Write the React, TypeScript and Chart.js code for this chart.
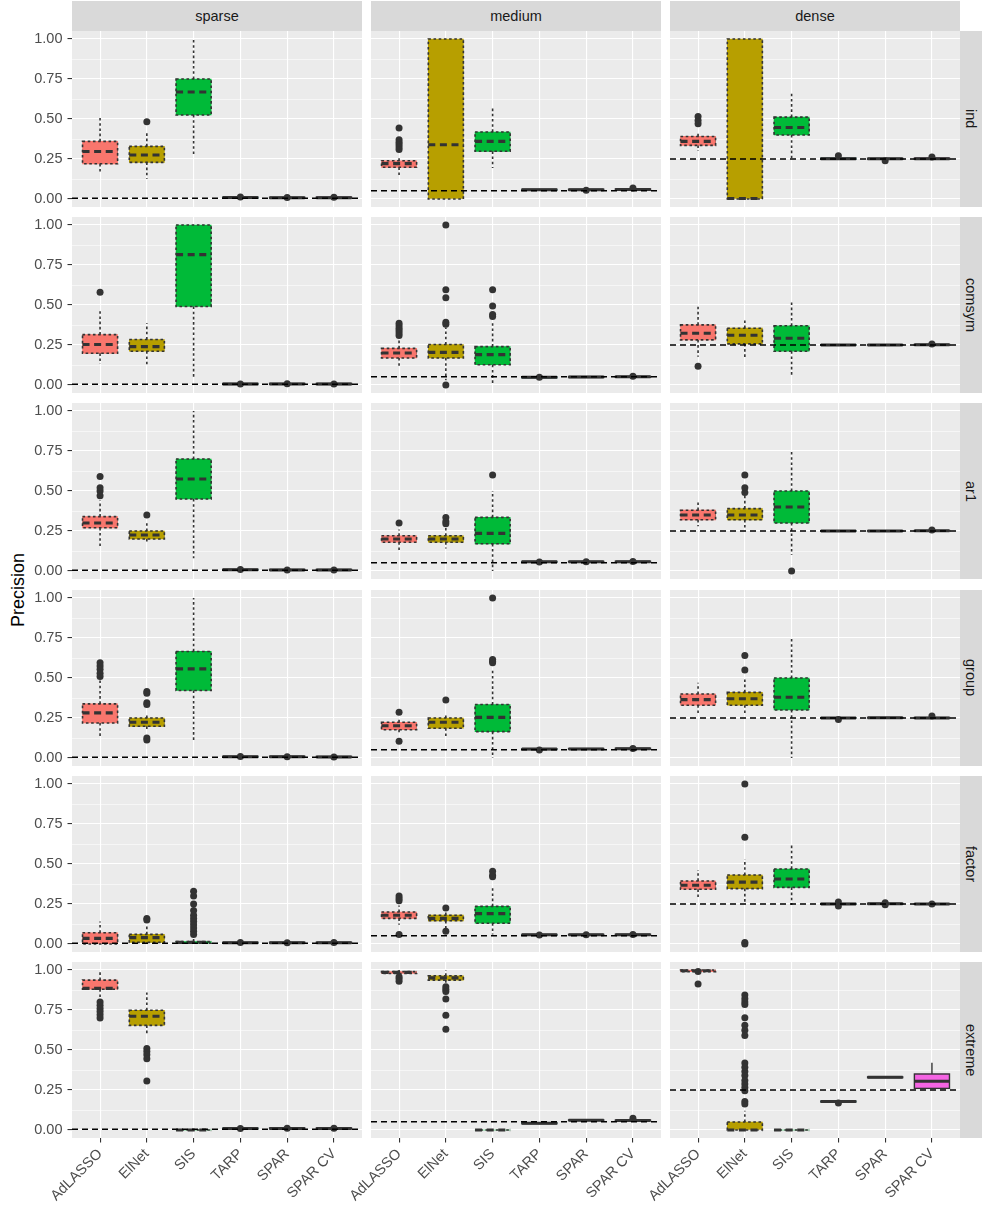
import React, { useEffect, useRef } from "react";
import { Chart, registerables } from "chart.js";

Chart.register(...registerables);

const FONT = '"Liberation Sans", Arial, Helvetica, sans-serif';

// ---------- categories / labels ----------
const METHODS = ["AdLASSO", "ElNet", "SIS", "TARP", "SPAR", "SPAR CV"];
const METHOD_COLORS = ["#F8766D", "#B79F00", "#00BA38", "#00BFC4", "#619CFF", "#F564E3"];
const DOTTED = [true, true, true, false, false, false];
const SCENARIOS = ["sparse", "medium", "dense"];
const STRUCTURES = ["ind", "comsym", "ar1", "group", "factor", "extreme"];
const REFERENCE_LINE = [0.005, 0.052, 0.25];
const Y_MAJOR = [0, 0.25, 0.5, 0.75, 1];
const Y_MINOR = [0.125, 0.375, 0.625, 0.875];
const Y_TICKS = [0, 0.125, 0.25, 0.375, 0.5, 0.625, 0.75, 0.875, 1];
const Y_MIN = -0.05;
const Y_MAX = 1.05;
const X_MIN = -0.6;
const X_MAX = 5.6;

// ---------- data: [lower whisker, Q1, median, Q3, upper whisker] per method ----------
const ind_sparse_box = [
  [0.158, 0.22, 0.297, 0.36, 0.516],
  [0.127, 0.229, 0.275, 0.329, 0.42],
  [0.275, 0.525, 0.669, 0.75, 1.0],
  [0.002, 0.005, 0.009, 0.012, 0.016],
  [0.002, 0.005, 0.008, 0.011, 0.015],
  [0.002, 0.005, 0.008, 0.012, 0.016],
];
const ind_sparse_out = [[], [0.483], [], [0.012], [0.01], [0.011]];

const ind_medium_box = [
  [0.141, 0.198, 0.221, 0.239, 0.266],
  [0.0, 0.0, 0.339, 1.0, 1.0],
  [0.194, 0.298, 0.36, 0.419, 0.579],
  [0.053, 0.055, 0.058, 0.061, 0.063],
  [0.052, 0.055, 0.058, 0.061, 0.064],
  [0.05, 0.055, 0.059, 0.063, 0.066],
];
const ind_medium_out = [[0.444, 0.37, 0.355, 0.34, 0.325, 0.31], [], [], [], [0.054], [0.069]];

const ind_dense_box = [
  [0.3, 0.335, 0.36, 0.391, 0.41],
  [0.0, 0.0, 0.003, 1.0, 1.0],
  [0.256, 0.4, 0.447, 0.512, 0.662],
  [0.244, 0.248, 0.252, 0.256, 0.26],
  [0.244, 0.248, 0.251, 0.254, 0.258],
  [0.244, 0.248, 0.251, 0.255, 0.258],
];
const ind_dense_out = [[0.515, 0.49, 0.47], [], [], [0.27], [0.239], [0.262]];

const comsym_sparse_box = [
  [0.132, 0.198, 0.253, 0.315, 0.476],
  [0.115, 0.211, 0.24, 0.284, 0.386],
  [0.05, 0.491, 0.815, 1.0, 1.0],
  [0.0, 0.003, 0.006, 0.01, 0.014],
  [0.0, 0.004, 0.007, 0.01, 0.014],
  [0.0, 0.003, 0.006, 0.01, 0.014],
];
const comsym_sparse_out = [[0.579], [], [], [0.006], [0.008], [0.006]];

const comsym_medium_box = [
  [0.104, 0.169, 0.2, 0.229, 0.278],
  [0.03, 0.169, 0.204, 0.253, 0.36],
  [0.01, 0.127, 0.19, 0.24, 0.39],
  [0.043, 0.045, 0.048, 0.051, 0.053],
  [0.045, 0.047, 0.05, 0.053, 0.055],
  [0.045, 0.048, 0.051, 0.054, 0.056],
];
const comsym_medium_out = [
  [0.386, 0.37, 0.355, 0.34, 0.325, 0.31],
  [1.0, 0.596, 0.545, 0.392, 0.38, 0.0],
  [0.596, 0.493, 0.44, 0.428],
  [0.048],
  [],
  [0.055],
];

const comsym_dense_box = [
  [0.177, 0.282, 0.323, 0.376, 0.49],
  [0.159, 0.257, 0.311, 0.355, 0.42],
  [0.052, 0.211, 0.292, 0.37, 0.533],
  [0.247, 0.249, 0.25, 0.252, 0.253],
  [0.247, 0.249, 0.25, 0.252, 0.253],
  [0.245, 0.248, 0.251, 0.254, 0.257],
];
const comsym_dense_out = [[0.117], [], [], [], [], [0.256]];

const ar1_sparse_box = [
  [0.14, 0.27, 0.3, 0.34, 0.44],
  [0.18, 0.2, 0.225, 0.25, 0.3],
  [0.08, 0.45, 0.575, 0.7, 1.0],
  [0.002, 0.005, 0.008, 0.011, 0.015],
  [0.002, 0.004, 0.007, 0.01, 0.014],
  [0.001, 0.004, 0.007, 0.01, 0.013],
];
const ar1_sparse_out = [[0.59, 0.52, 0.5, 0.47], [0.35], [], [0.009], [0.007], [0.006]];

const ar1_medium_box = [
  [0.13, 0.18, 0.2, 0.22, 0.26],
  [0.14, 0.18, 0.2, 0.22, 0.27],
  [0.0, 0.17, 0.235, 0.335, 0.5],
  [0.053, 0.055, 0.058, 0.06, 0.062],
  [0.054, 0.056, 0.058, 0.06, 0.062],
  [0.053, 0.056, 0.058, 0.061, 0.063],
];
const ar1_medium_out = [[0.3], [0.335, 0.31, 0.295], [0.6], [0.057], [0.058], [0.06]];

const ar1_dense_box = [
  [0.28, 0.32, 0.35, 0.38, 0.43],
  [0.27, 0.32, 0.35, 0.39, 0.47],
  [0.1, 0.3, 0.4, 0.5, 0.75],
  [0.248, 0.249, 0.25, 0.252, 0.253],
  [0.248, 0.249, 0.25, 0.252, 0.253],
  [0.247, 0.249, 0.251, 0.253, 0.255],
];
const ar1_dense_out = [[], [0.6, 0.52, 0.49], [0.0], [], [], [0.256]];

const group_sparse_box = [
  [0.125, 0.219, 0.282, 0.338, 0.495],
  [0.171, 0.198, 0.223, 0.25, 0.276],
  [0.098, 0.422, 0.557, 0.666, 1.0],
  [0.002, 0.005, 0.008, 0.011, 0.015],
  [0.002, 0.005, 0.008, 0.011, 0.014],
  [0.001, 0.004, 0.007, 0.01, 0.013],
];
const group_sparse_out = [
  [0.595, 0.575, 0.555, 0.53, 0.51],
  [0.415, 0.405, 0.345, 0.335, 0.125, 0.113],
  [],
  [0.009],
  [0.008],
  [0.007],
];

const group_medium_box = [
  [0.154, 0.177, 0.202, 0.223, 0.248],
  [0.123, 0.186, 0.223, 0.25, 0.276],
  [0.0, 0.165, 0.254, 0.334, 0.56],
  [0.05, 0.053, 0.056, 0.058, 0.06],
  [0.053, 0.055, 0.057, 0.059, 0.061],
  [0.052, 0.055, 0.058, 0.061, 0.064],
];
const group_medium_out = [[0.286, 0.104], [0.363], [1.0, 0.616, 0.605, 0.595], [0.05], [], [0.06]];

const group_dense_box = [
  [0.27, 0.33, 0.365, 0.4, 0.47],
  [0.27, 0.33, 0.37, 0.41, 0.5],
  [0.0, 0.3, 0.38, 0.5, 0.75],
  [0.247, 0.249, 0.25, 0.252, 0.254],
  [0.248, 0.25, 0.251, 0.253, 0.255],
  [0.246, 0.248, 0.25, 0.253, 0.256],
];
const group_dense_out = [[], [0.64, 0.55], [], [0.24], [], [0.262]];

const factor_sparse_box = [
  [0.0, 0.0, 0.035, 0.07, 0.14],
  [0.0, 0.01, 0.04, 0.06, 0.12],
  [0.0, 0.005, 0.01, 0.015, 0.04],
  [0.002, 0.005, 0.008, 0.011, 0.015],
  [0.002, 0.005, 0.008, 0.011, 0.014],
  [0.002, 0.005, 0.008, 0.011, 0.014],
];
const factor_sparse_out = [
  [],
  [0.16, 0.15],
  [0.33, 0.3, 0.25, 0.21, 0.18, 0.16, 0.14, 0.12, 0.1, 0.08, 0.06],
  [0.009],
  [0.008],
  [0.009],
];

const factor_medium_box = [
  [0.12, 0.16, 0.18, 0.2, 0.24],
  [0.1, 0.145, 0.16, 0.18, 0.21],
  [0.06, 0.13, 0.19, 0.235, 0.36],
  [0.053, 0.055, 0.058, 0.06, 0.062],
  [0.054, 0.056, 0.058, 0.06, 0.062],
  [0.053, 0.055, 0.058, 0.061, 0.063],
];
const factor_medium_out = [[0.3, 0.285, 0.27, 0.06], [0.225, 0.08], [0.455, 0.43, 0.42], [0.057], [0.058], [0.06]];

const factor_dense_box = [
  [0.292, 0.342, 0.367, 0.394, 0.462],
  [0.258, 0.346, 0.387, 0.431, 0.529],
  [0.244, 0.354, 0.406, 0.469, 0.629],
  [0.245, 0.248, 0.25, 0.253, 0.256],
  [0.246, 0.249, 0.251, 0.254, 0.257],
  [0.246, 0.248, 0.25, 0.252, 0.254],
];
const factor_dense_out = [[], [1.0, 0.667, 0.01, 0.0], [], [0.262, 0.238], [0.258, 0.245], [0.25]];

const extreme_sparse_box = [
  [0.832, 0.88, 0.885, 0.937, 1.0],
  [0.591, 0.654, 0.711, 0.748, 0.86],
  [0, 0, 0, 0, 0],
  [0.003, 0.006, 0.009, 0.012, 0.016],
  [0.004, 0.007, 0.01, 0.013, 0.016],
  [0.004, 0.007, 0.01, 0.013, 0.016],
];
const extreme_sparse_out = [[0.8, 0.78, 0.76, 0.74, 0.72, 0.7], [0.51, 0.49, 0.47, 0.445, 0.306], [], [0.01], [0.011], [0.011]];

const extreme_medium_box = [
  [0.965, 0.978, 0.985, 0.99, 1.0],
  [0.91, 0.937, 0.951, 0.964, 1.0],
  [0, 0, 0, 0, 0],
  [0.036, 0.039, 0.042, 0.045, 0.048],
  [0.058, 0.059, 0.061, 0.063, 0.064],
  [0.056, 0.058, 0.06, 0.062, 0.064],
];
const extreme_medium_out = [[0.958, 0.945, 0.93], [0.895, 0.88, 0.865, 0.818, 0.717, 0.629], [], [], [], [0.074]];

const extreme_dense_box = [
  [0.98, 0.99, 0.995, 1.0, 1.0],
  [0.0, 0.0, 0.0, 0.05, 0.12],
  [0, 0, 0, 0, 0],
  [0.172, 0.175, 0.178, 0.181, 0.184],
  [0.326, 0.327, 0.329, 0.332, 0.334],
  [0.26, 0.26, 0.305, 0.35, 0.42],
];
const extreme_dense_out = [
  [0.99, 0.912],
  [0.843, 0.82, 0.8, 0.784, 0.702, 0.654, 0.623, 0.591, 0.419, 0.392, 0.365, 0.34, 0.31, 0.287, 0.266, 0.245, 0.178, 0.162],
  [],
  [0.168],
  [],
  [],
];

// lookup table built from the arrays above
const PANEL_DATA: Record<string, number[][][][]> = {
  ind: [[ind_sparse_box, ind_sparse_out], [ind_medium_box, ind_medium_out], [ind_dense_box, ind_dense_out]],
  comsym: [[comsym_sparse_box, comsym_sparse_out], [comsym_medium_box, comsym_medium_out], [comsym_dense_box, comsym_dense_out]],
  ar1: [[ar1_sparse_box, ar1_sparse_out], [ar1_medium_box, ar1_medium_out], [ar1_dense_box, ar1_dense_out]],
  group: [[group_sparse_box, group_sparse_out], [group_medium_box, group_medium_out], [group_dense_box, group_dense_out]],
  factor: [[factor_sparse_box, factor_sparse_out], [factor_medium_box, factor_medium_out], [factor_dense_box, factor_dense_out]],
  extreme: [[extreme_sparse_box, extreme_sparse_out], [extreme_medium_box, extreme_medium_out], [extreme_dense_box, extreme_dense_out]],
};

// ---------- layout ----------
const COL_LEFT = [72, 371, 670];
const ROW_TOP = [31, 217, 403, 590, 776, 962];
const PANEL_W = 290;
const PANEL_H = 176;
const Y_AXIS_W = 52;
const X_AXIS_H = 73;
const BOX_WIDTH = 0.75;
const LINE_COLOR = "#333333";

function seg(ctx: CanvasRenderingContext2D, x1: number, y1: number, x2: number, y2: number) {
  ctx.beginPath();
  ctx.moveTo(x1, y1);
  ctx.lineTo(x2, y2);
  ctx.stroke();
}

const backgroundPlugin = {
  id: "panelBackground",
  beforeDraw(chart: any) {
    const { ctx, chartArea } = chart;
    ctx.save();
    ctx.fillStyle = "#EBEBEB";
    ctx.fillRect(chartArea.left, chartArea.top, chartArea.right - chartArea.left, chartArea.bottom - chartArea.top);
    ctx.restore();
  },
};

function makeBoxPlugin(stats: number[][]) {
  return {
    id: "boxDetails",
    afterDatasetDraw(chart: any, args: any) {
      if (args.index !== 0) return;
      const xs = chart.scales.x;
      const ys = chart.scales.y;
      const ctx: CanvasRenderingContext2D = chart.ctx;
      const a = chart.chartArea;
      ctx.save();
      ctx.beginPath();
      ctx.rect(a.left, a.top, a.right - a.left, a.bottom - a.top);
      ctx.clip();
      ctx.strokeStyle = LINE_COLOR;
      ctx.lineCap = "butt";
      stats.forEach((s, i) => {
        const cx = xs.getPixelForValue(i);
        const hw = (xs.getPixelForValue(i + BOX_WIDTH / 2) - xs.getPixelForValue(i - BOX_WIDTH / 2)) / 2;
        const [lo, q1, med, q3, hi] = s.map((v) => ys.getPixelForValue(v));
        const dotted = DOTTED[i];
        ctx.lineWidth = dotted ? 1.6 : 1.4;
        ctx.setLineDash(dotted ? [2.6, 2.6] : []);
        seg(ctx, cx, q3, cx, hi);
        seg(ctx, cx, q1, cx, lo);
        ctx.strokeRect(cx - hw, q3, hw * 2, q1 - q3);
        ctx.lineWidth = dotted ? 3.1 : 3;
        ctx.setLineDash(dotted ? [7, 4.6] : []);
        seg(ctx, cx - hw, med, cx + hw, med);
      });
      ctx.restore();
    },
  };
}

function Panel({ row, col }: { row: number; col: number }) {
  const ref = useRef<HTMLCanvasElement | null>(null);
  const isLeft = col === 0;
  const isBottom = row === STRUCTURES.length - 1;
  const padL = isBottom && !isLeft ? 64 : 10;
  const padT = 10;
  const padR = 4;
  const padB = isBottom ? 0 : 6;
  const axisW = isLeft ? Y_AXIS_W : 0;
  const axisH = isBottom ? X_AXIS_H : 0;
  const w = padL + axisW + PANEL_W + padR;
  const h = padT + PANEL_H + axisH + padB;
  const left = COL_LEFT[col] - axisW - padL;
  const top = ROW_TOP[row] - padT;

  useEffect(() => {
    const [stats, outliers] = PANEL_DATA[STRUCTURES[row]][col];
    const refY = REFERENCE_LINE[col];
    const outlierPoints: { x: number; y: number }[] = [];
    outliers.forEach((list, i) => list.forEach((v) => outlierPoints.push({ x: i, y: v })));
    const barPx = (PANEL_W / (X_MAX - X_MIN)) * BOX_WIDTH;
    const tickFont = { family: FONT, size: 14.5 };

    const chart = new Chart(ref.current as HTMLCanvasElement, {
      type: "bar",
      data: {
        datasets: [
          {
            type: "bar",
            data: stats.map((s, i) => ({ x: i, y: [s[1], s[3]] })),
            backgroundColor: METHOD_COLORS,
            borderWidth: 0,
            barThickness: barPx,
            order: 3,
          } as any,
          {
            type: "scatter",
            data: outlierPoints,
            pointRadius: 3.5,
            pointBackgroundColor: LINE_COLOR,
            pointBorderColor: LINE_COLOR,
            pointBorderWidth: 0,
            order: 2,
          } as any,
          {
            type: "line",
            data: [
              { x: X_MIN, y: refY },
              { x: X_MAX, y: refY },
            ],
            borderColor: "#000000",
            borderWidth: 1.6,
            borderDash: [6, 4],
            pointRadius: 0,
            fill: false,
            tension: 0,
            order: 1,
          } as any,
        ],
      },
      options: {
        responsive: false,
        maintainAspectRatio: false,
        animation: false,
        events: [],
        layout: { padding: { left: padL, right: padR, top: padT, bottom: padB } },
        plugins: { legend: { display: false }, tooltip: { enabled: false }, title: { display: false } },
        scales: {
          x: {
            type: "linear",
            min: X_MIN,
            max: X_MAX,
            bounds: "data",
            offset: false,
            afterBuildTicks: (s: any) => {
              s.ticks = METHODS.map((_, i) => ({ value: i }));
            },
            afterFit: (s: any) => {
              s.height = axisH;
              s.paddingLeft = 0;
              s.paddingRight = 0;
              s.paddingTop = 0;
              s.paddingBottom = 0;
            },
            ticks: {
              display: isBottom,
              autoSkip: false,
              minRotation: 45,
              maxRotation: 45,
              padding: 3,
              color: "#4D4D4D",
              font: tickFont,
              callback: (v: any) => METHODS[Math.round(Number(v))] ?? "",
            },
            grid: {
              offset: false,
              color: "#FFFFFF",
              lineWidth: 1.1,
              drawTicks: isBottom,
              tickLength: 4.5,
              tickColor: LINE_COLOR,
              tickWidth: 1.1,
            },
            border: { display: false },
          },
          y: {
            type: "linear",
            min: Y_MIN,
            max: Y_MAX,
            bounds: "data",
            afterBuildTicks: (s: any) => {
              s.ticks = Y_TICKS.map((v) => ({ value: v }));
            },
            afterFit: (s: any) => {
              s.width = axisW;
              s.paddingLeft = 0;
              s.paddingRight = 0;
              s.paddingTop = 0;
              s.paddingBottom = 0;
            },
            ticks: {
              display: isLeft,
              autoSkip: false,
              padding: 5,
              color: "#4D4D4D",
              font: tickFont,
              callback: (v: any) => (Y_MAJOR.includes(Number(v)) ? Number(v).toFixed(2) : ""),
            },
            grid: {
              offset: false,
              color: "#FFFFFF",
              lineWidth: (c: any) => (c.tick && Y_MINOR.includes(c.tick.value) ? 0.55 : 1.1),
              drawTicks: isLeft,
              tickLength: 4.5,
              tickColor: (c: any) => (c.tick && Y_MAJOR.includes(c.tick.value) ? LINE_COLOR : "rgba(0,0,0,0)"),
              tickWidth: 1.1,
            },
            border: { display: false },
          },
        },
      } as any,
      plugins: [backgroundPlugin, makeBoxPlugin(stats)],
    });
    return () => chart.destroy();
  }, [row, col]);

  return (
    <canvas
      ref={ref}
      width={w}
      height={h}
      style={{ position: "absolute", left, top, width: w, height: h }}
    />
  );
}

export default function App() {
  const stripBase: React.CSSProperties = {
    position: "absolute",
    background: "#D9D9D9",
    color: "#1A1A1A",
    fontFamily: FONT,
    fontSize: 14.5,
    display: "flex",
    alignItems: "center",
    justifyContent: "center",
    whiteSpace: "nowrap",
  };
  return (
    <div
      style={{
        position: "absolute",
        left: 0,
        top: 0,
        width: 982,
        height: 1211,
        overflow: "hidden",
        background: "#FFFFFF",
      }}
    >
      {SCENARIOS.map((s, c) => (
        <div key={s} style={{ ...stripBase, left: COL_LEFT[c], top: 1, width: PANEL_W, height: 30 }}>
          {s}
        </div>
      ))}
      {STRUCTURES.map((s, r) => (
        <div
          key={s}
          style={{ ...stripBase, left: 960, top: ROW_TOP[r], width: 22, height: PANEL_H, writingMode: "vertical-rl" }}
        >
          {s}
        </div>
      ))}
      <div
        style={{
          position: "absolute",
          left: 18,
          top: 590,
          transform: "translate(-50%, -50%) rotate(-90deg)",
          fontFamily: FONT,
          fontSize: 18,
          color: "#000000",
          whiteSpace: "nowrap",
        }}
      >
        Precision
      </div>
      {STRUCTURES.map((_, r) =>
        SCENARIOS.map((__, c) => <Panel key={`${r}-${c}`} row={r} col={c} />)
      )}
    </div>
  );
}
